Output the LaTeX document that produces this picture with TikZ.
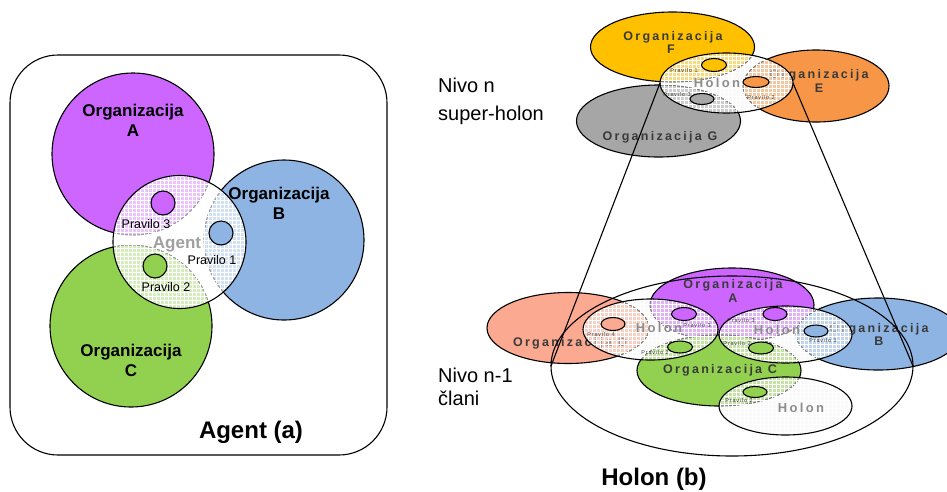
\documentclass[tikz,border=0pt]{standalone}
\usepackage{fontspec}
\setmainfont{Liberation Sans}
\newfontfamily\spacedfont[LetterSpace=18]{Liberation Sans}
\newfontfamily\tinyfont[LetterSpace=15]{Liberation Sans}
\usetikzlibrary{shapes.geometric}

\definecolor{orgpurple}{HTML}{CC66FF}
\definecolor{orgblue}{HTML}{8DB4E2}
\definecolor{orggreen}{HTML}{92D050}
\definecolor{orgyellow}{HTML}{FFC000}
\definecolor{orgorange}{HTML}{F79646}
\definecolor{orggrey}{HTML}{A6A6A6}
\definecolor{orgsalmon}{HTML}{FBA990}
\definecolor{labeldark}{HTML}{3A3A3A}
\definecolor{labelgrey}{HTML}{8C8C8C}
\definecolor{agentgrey}{HTML}{A0A0A0}
\definecolor{washgrey}{HTML}{F4F4F4}

\begin{document}
\begin{tikzpicture}[x=1pt, y=-1pt,
  outline/.style={draw=black, line width=1.1pt},
  agentwash/.style={fill=white, fill opacity=0.62},
  wash/.style={fill=washgrey, fill opacity=0.52},
  mesh/.style={draw=white, line width=0.6pt, step=4pt},
  orglabel/.style={font=\bfseries\fontsize{17}{20}\selectfont, inner sep=0, anchor=base},
  rulelabel/.style={font=\fontsize{12.5}{15}\selectfont, inner sep=0, anchor=base},
  agentlabel/.style={font=\bfseries\fontsize{17}{20}\selectfont, text=agentgrey, inner sep=0, anchor=base},
  smallorg/.style={font=\spacedfont\bfseries\fontsize{12.5}{14}\selectfont, text=labeldark, inner sep=0, anchor=base},
  holonlabel/.style={font=\spacedfont\bfseries\fontsize{13}{15}\selectfont, text=labelgrey, inner sep=0, anchor=base},
  tinylabel/.style={font=\tinyfont\fontsize{5.5}{6}\selectfont, text=labeldark, inner sep=0, anchor=base},
  leveltext/.style={font=\fontsize{20}{24}\selectfont, inner sep=0, anchor=base west},
  caption/.style={font=\bfseries\fontsize{24}{28}\selectfont, inner sep=0, anchor=base},
  conn/.style={draw=black, line width=1.1pt},
  ringnode/.style={ellipse, draw=black, line width=1.1pt, inner sep=0, outer sep=0},
  % left panel shapes
  shA/.style={insert path={(133,154) circle [radius=81]}},
  shB/.style={insert path={(284,240) circle [radius=80]}},
  shC/.style={insert path={(131,326) circle [radius=81]}},
  shAgent/.style={insert path={(179.5,242) circle [radius=66.5]}},
  % upper holarchy level
  shF/.style={insert path={(672.5,47) ellipse [x radius=82, y radius=35]}},
  shG/.style={insert path={(658.5,121) ellipse [x radius=82, y radius=36]}},
  shE/.style={insert path={(816,86) ellipse [x radius=73, y radius=36]}},
  shHtop/.style={insert path={(726.5,83) ellipse [x radius=66.5, y radius=30]}},
  % lower holarchy level
  shD/.style={insert path={(568,328) ellipse [x radius=81, y radius=35.5]}},
  shOA/.style={insert path={(732,305) ellipse [x radius=82, y radius=37]}},
  shOB/.style={insert path={(878,334) ellipse [x radius=82, y radius=36]}},
  shOC/.style={insert path={(719,370.5) ellipse [x radius=82, y radius=35.5]}},
  shHl/.style={insert path={(650.5,329.5) ellipse [x radius=67.5, y radius=30.5]}},
  shHm/.style={insert path={(785.5,334.5) ellipse [x radius=66.5, y radius=28.5]}},
  shHb/.style={insert path={(785.5,406) ellipse [x radius=66.5, y radius=29]}},
]
\useasboundingbox (0,0) rectangle (947,491);
\clip (0,0) rectangle (947,491);

% ---------------- Agent (a) ----------------
\draw[outline, rounded corners=48] (10,55) rectangle (387,455);

\path[shA, fill=orgpurple, outline];
\path[shB, fill=orgblue, outline];
\path[shC, fill=orggreen, outline];

\node[orglabel] (labA) at (133,116) {Organizacija};
\node[orglabel] (labAb) at (133,136) {A};
\node[orglabel] (labB) at (279,199) {Organizacija};
\node[orglabel] (labBb) at (279,219) {B};
\node[orglabel] (labC) at (131,356) {Organizacija};
\node[orglabel] (labCb) at (131,376) {C};

\begin{scope}
  \path[clip, shAgent];
  \fill[agentwash] (100,320) rectangle (260,170);
  \draw[mesh] (100,320) grid (260,170);
\end{scope}
\path[shAgent, outline];

\path[outline, fill=orgpurple] (163,203) circle [radius=12];
\path[outline, fill=orgblue] (221,233) circle [radius=12];
\path[outline, fill=orggreen] (155,266) circle [radius=12];

\node[rulelabel] (rule3) at (146,228) {Pravilo 3};
\node[rulelabel] (rule1) at (212,264) {Pravilo 1};
\node[rulelabel] (rule2) at (166,291) {Pravilo 2};
\node[agentlabel] (agentname) at (177,248) {Agent};

\node[caption] (capA) at (251,438) {Agent (a)};

% ---------------- Holon (b) ----------------
\node[leveltext] (nivoN) at (438,92) {Nivo n};
\node[leveltext] (superH) at (438,120) {super-holon};
\node[leveltext] (nivoN1) at (438,382) {Nivo n-1};
\node[leveltext] (clani) at (438,405) {člani};
\node[caption] (capB) at (654,485) {Holon (b)};

% upper level: super-holon
\path[shF, fill=orgyellow, outline];
\path[shG, fill=orggrey, outline];
\path[shE, fill=orgorange, outline];

\node[smallorg] (labF) at (673,40) {Organizacija};
\node[smallorg] (labFb) at (671,53) {F};
\node[smallorg] (labE) at (819,78) {Organizacija};
\node[smallorg] (labEb) at (819,92) {E};
\node[smallorg] (labG) at (660,140) {Organizacija G};

\begin{scope}
  \path[clip, shHtop];
  \fill[wash] (655,118) rectangle (800,48);
  \draw[mesh] (655,118) grid (800,48);
\end{scope}
\node[ringnode, minimum width=133, minimum height=60] (holonTop) at (726.5,83) {};

\path[outline, fill=orgyellow] (714,65) ellipse [x radius=12.5, y radius=6.5];
\path[outline, fill=orgorange] (756,82) ellipse [x radius=13, y radius=5.5];
\path[outline, fill=orggrey] (702,99) ellipse [x radius=12, y radius=5.5];

\node[holonlabel] (holonTopName) at (717,87) {Holon};
\node[tinylabel] (tF) at (684,72) {Pravilo 1};
\node[tinylabel] (tG) at (677,96) {Pravilo 3};
\node[tinylabel] (tE) at (761,99) {Pravilo 2};

% lower level: member holons
\path[shD, fill=orgsalmon, outline];
\path[shOA, fill=orgpurple, outline];
\path[shOB, fill=orgblue, outline];
\path[shOC, fill=orggreen, outline];

\node[smallorg] (labOA) at (733,288) {Organizacija};
\node[smallorg] (labOAb) at (733,302) {A};
\node[smallorg] (labD) at (570,346) {Organizacija D};
\node[smallorg] (labOB) at (879,332) {Organizacija};
\node[smallorg] (labOBb) at (879,345) {B};
\node[smallorg] (labOC) at (720,373) {Organizacija C};

\begin{scope}
  \path[clip, shHl];
  \fill[wash] (580,364) rectangle (722,296);
  \draw[mesh] (580,364) grid (722,296);
\end{scope}
\begin{scope}
  \path[clip, shHm];
  \fill[wash] (716,366) rectangle (856,302);
  \draw[mesh] (716,366) grid (856,302);
\end{scope}
\begin{scope}
  \path[clip, shHb];
  \fill[wash] (716,438) rectangle (856,374);
  \draw[mesh] (716,438) grid (856,374);
\end{scope}
\node[ringnode, minimum width=135, minimum height=61] (holonL) at (650.5,329.5) {};
\node[ringnode, minimum width=133, minimum height=57] (holonM) at (785.5,334.5) {};
\node[ringnode, minimum width=133, minimum height=58] (holonBot) at (785.5,406) {};

\path[outline, fill=orgsalmon] (613,324) ellipse [x radius=12, y radius=6.5];
\path[outline, fill=orgpurple] (684,314) ellipse [x radius=12.5, y radius=6.5];
\path[outline, fill=orggreen] (680,347) ellipse [x radius=12.5, y radius=6];
\path[outline, fill=orgpurple] (775,314) ellipse [x radius=12, y radius=6.5];
\path[outline, fill=orgblue] (816,331) ellipse [x radius=12, y radius=6];
\path[outline, fill=orggreen] (761,348) ellipse [x radius=12.5, y radius=6];
\path[outline, fill=orggreen] (755,392) ellipse [x radius=12, y radius=5.5];

\node[holonlabel] (holonLName) at (659,332) {Holon};
\node[holonlabel] (holonMName) at (777,334) {Holon};
\node[holonlabel] (holonBotName) at (801,412) {Holon};

\node[tinylabel] (tD) at (601,336) {Pravilo 4};
\node[tinylabel] (tLA) at (697,327) {Pravilo 3};
\node[tinylabel] (tLC) at (655,354) {Pravilo 2};
\node[tinylabel] (tMA) at (741,322) {Pravilo 3};
\node[tinylabel] (tMC) at (737,345) {Pravilo 2};
\node[tinylabel] (tMB) at (823,342) {Pravilo 1};
\node[tinylabel] (tBC) at (739,402) {Pravilo 2};

% enclosing super-holon outline and the projection lines
\node[ringnode, minimum width=362, minimum height=180] (bigHolon) at (732,366) {};
\draw[conn] (holonTop.west) -- (bigHolon.west);
\draw[conn] (holonTop.east) -- (bigHolon.east);
\end{tikzpicture}
\end{document}
